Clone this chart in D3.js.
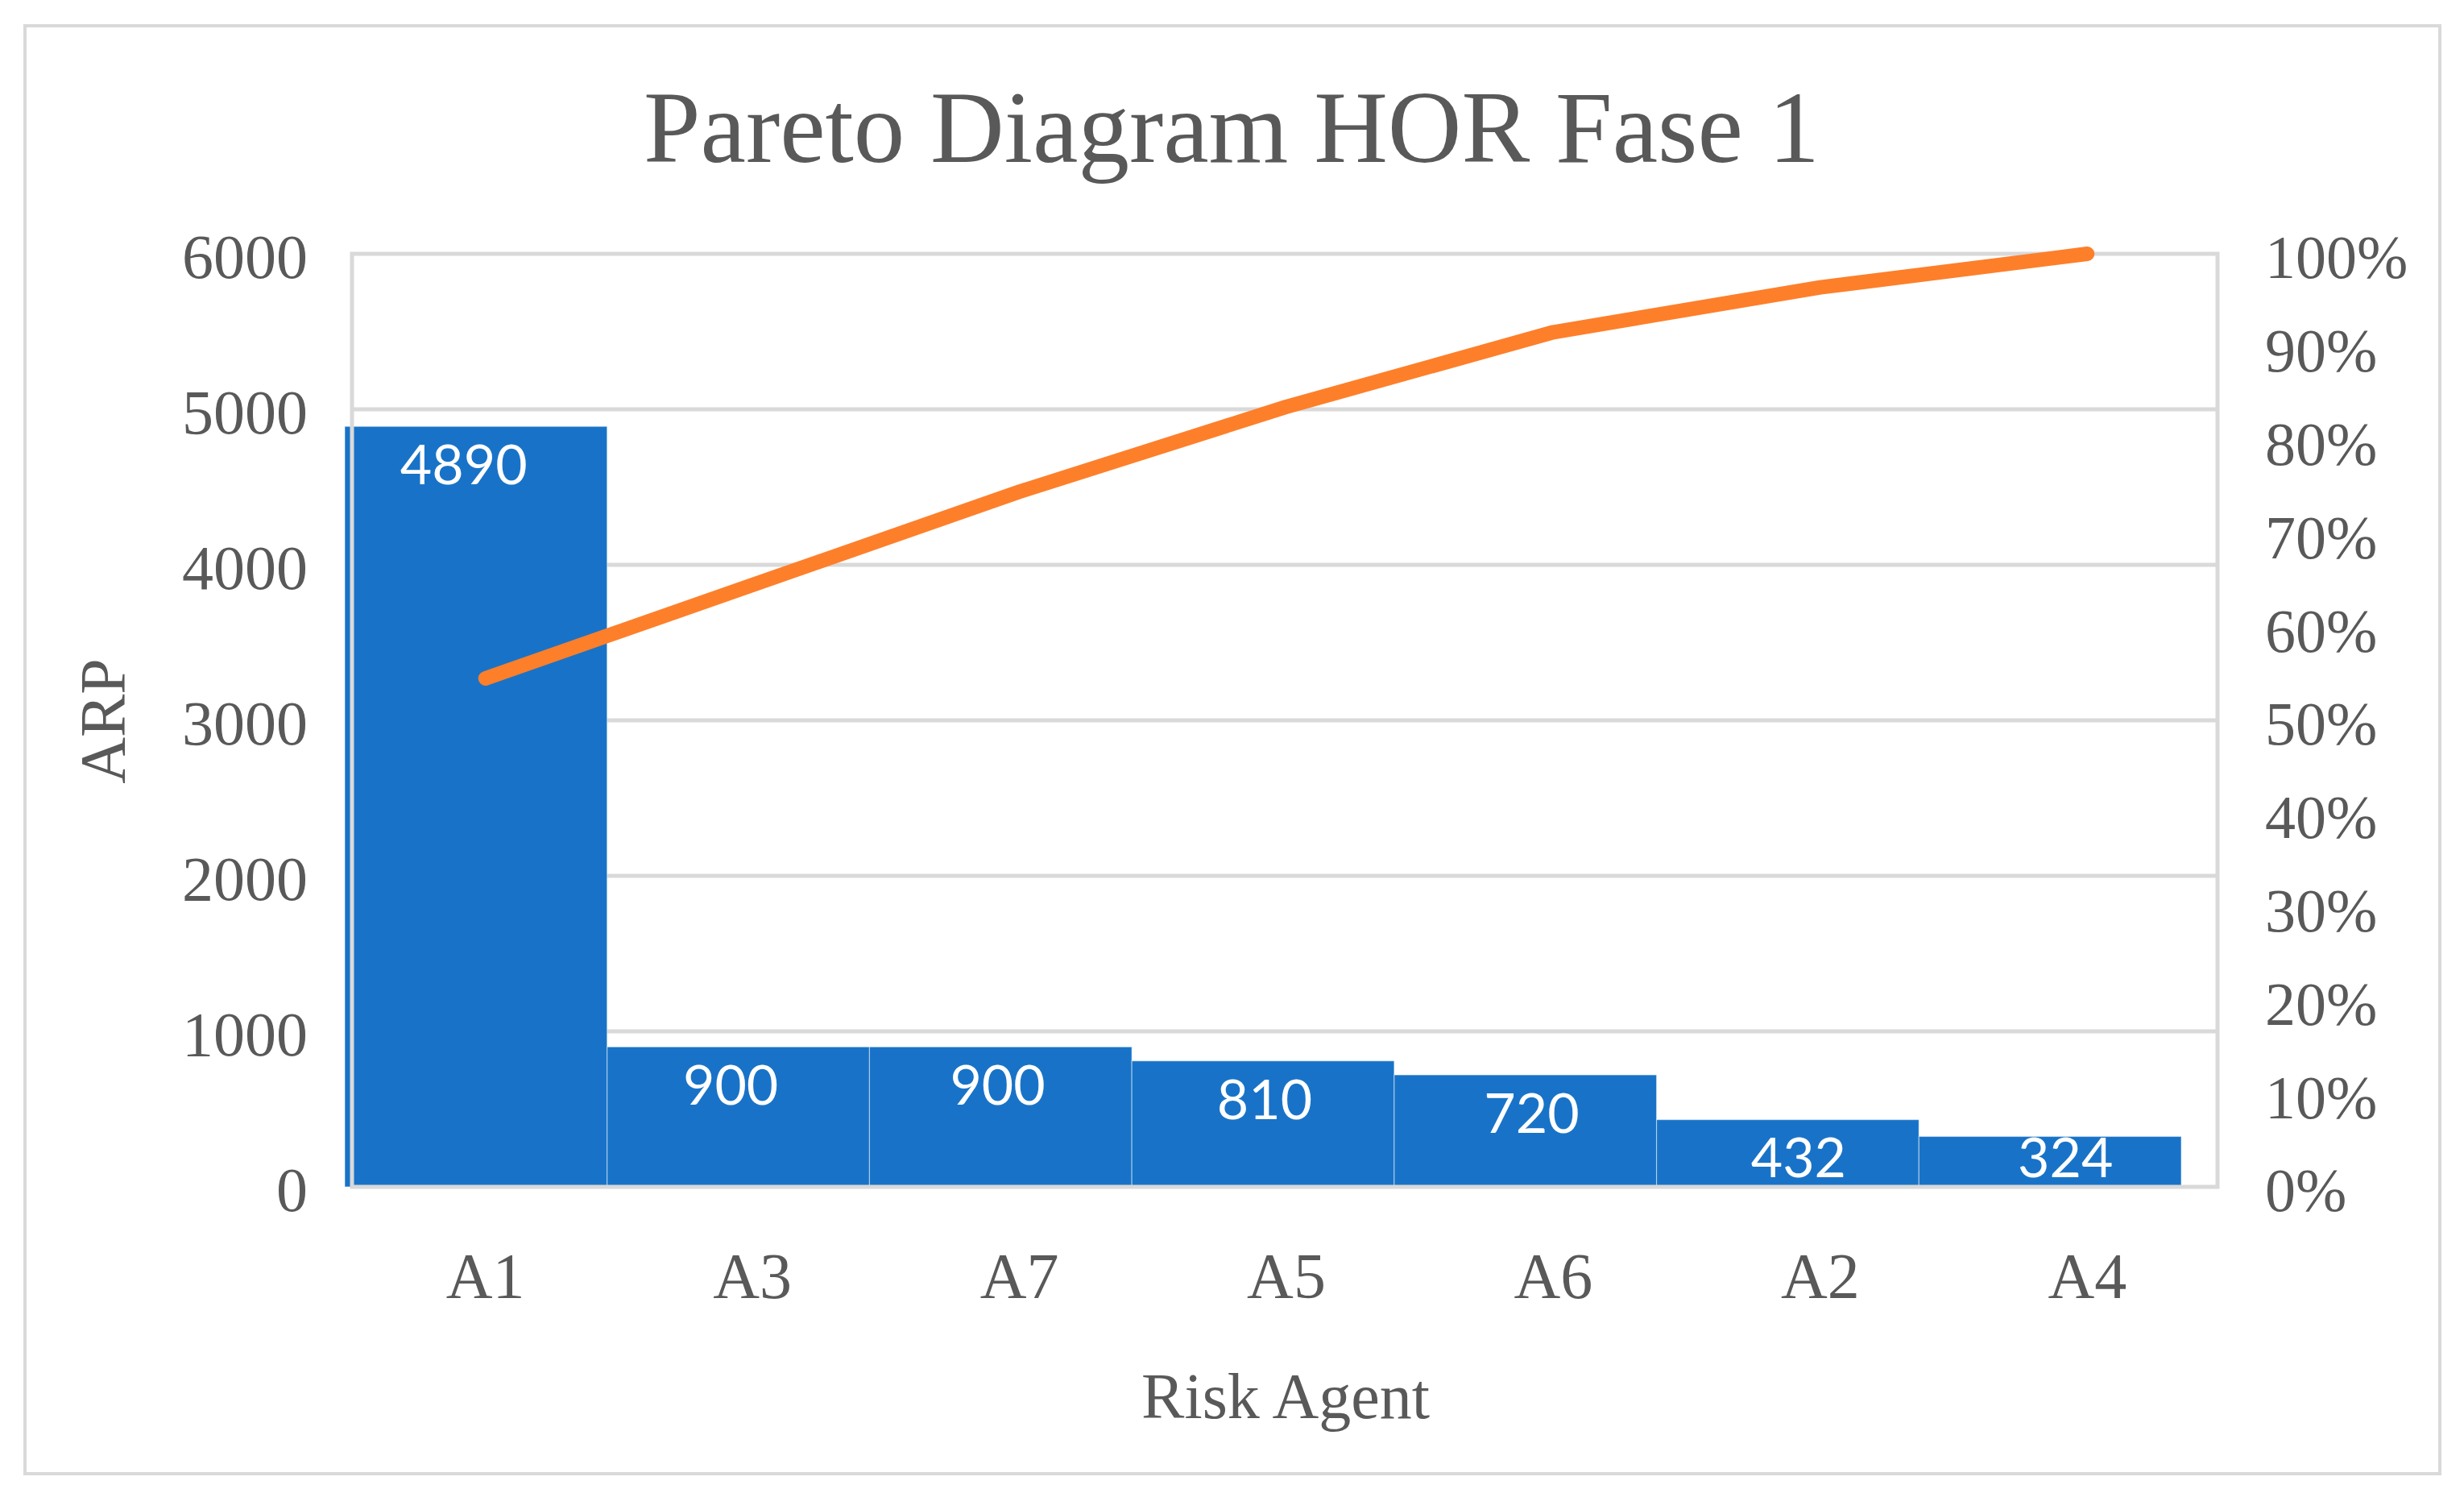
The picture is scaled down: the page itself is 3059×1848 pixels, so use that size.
<!DOCTYPE html>
<html>
<head>
<meta charset="utf-8">
<script src="https://cdn.jsdelivr.net/npm/d3@7"></script>
<style>
  html, body { margin: 0; padding: 0; background: #ffffff; }
  svg { display: block; }
</style>
</head>
<body>
<script>
// ---- Data ----
const categories = ["A1", "A3", "A7", "A5", "A6", "A2", "A4"];
const arpValues = [4890, 900, 900, 810, 720, 432, 324];
const cumulativePct = [54.5, 64.5, 74.5, 83.6, 91.6, 96.4, 100];
const leftTickValues = [0, 1000, 2000, 3000, 4000, 5000, 6000];
const rightTickValues = [0, 10, 20, 30, 40, 50, 60, 70, 80, 90, 100];
const titleText = "Pareto Diagram HOR Fase 1";
const xTitle = "Risk Agent";
const yTitle = "ARP";

// ---- Layout ----
const W = 3059, H = 1848;
const plotLeft = 437, plotRight = 2753, plotTop = 315, plotBottom = 1473;
const textColor = "#595959";
const gridColor = "#D9D9D9";
const barColor = "#1873C8";
const lineColor = "#FE7F2A";
const serif = "'Liberation Serif', 'DejaVu Serif', serif";
const sans = "Lato, 'Open Sans', 'Liberation Sans', sans-serif";

const svg = d3.select("body").append("svg")
  .attr("width", W).attr("height", H);

svg.append("rect").attr("width", W).attr("height", H).attr("fill", "#fff");
// outer chart border
svg.append("rect")
  .attr("x", 31).attr("y", 32).attr("width", 2998).attr("height", 1797)
  .attr("fill", "none").attr("stroke", gridColor).attr("stroke-width", 4);

// ---- Scales ----
const x = d3.scaleBand().domain(categories).range([plotLeft, plotRight + 4]).padding(0);
const xBar = d3.scaleBand().domain(categories).range([plotLeft - 9, plotRight - 45]).padding(0);
const y = d3.scaleLinear().domain([0, 6000]).range([plotBottom, plotTop]);
const yPct = d3.scaleLinear().domain([0, 100]).range([plotBottom, plotTop]);

// ---- Gridlines ----
svg.append("g").selectAll("line")
  .data(leftTickValues.filter(v => v > 0 && v < 6000))
  .join("line")
  .attr("x1", plotLeft).attr("x2", plotRight)
  .attr("y1", d => y(d)).attr("y2", d => y(d))
  .attr("stroke", gridColor).attr("stroke-width", 5);

// ---- Bars ----
svg.append("g").selectAll("rect")
  .data(categories.map((c, i) => ({ c, v: arpValues[i] })))
  .join("rect")
  .attr("x", d => xBar(d.c))
  .attr("width", xBar.bandwidth())
  .attr("y", d => y(d.v))
  .attr("height", d => y(0) - y(d.v))
  .attr("fill", barColor)
  .attr("stroke", "rgba(255,255,255,0.45)")
  .attr("stroke-width", 1.2);

// ---- Plot frame (drawn over the bars) ----
svg.append("rect")
  .attr("x", plotLeft).attr("y", plotTop)
  .attr("width", plotRight - plotLeft).attr("height", plotBottom - plotTop)
  .attr("fill", "none").attr("stroke", gridColor).attr("stroke-width", 5);

// ---- Bar data labels ----
svg.append("g").selectAll("text")
  .data(categories.map((c, i) => ({ c, v: arpValues[i] })))
  .join("text")
  .attr("x", d => x(d.c) + x.bandwidth() / 2 - 27)
  .attr("y", d => Math.min(y(d.v) + 72, y(0) - 12))
  .attr("text-anchor", "middle")
  .attr("font-family", sans)
  .attr("font-size", 68)
  .attr("fill", "#ffffff")
  .text(d => d.v);

// ---- Cumulative line ----
const line = d3.line()
  .x((d, i) => x(categories[i]) + x.bandwidth() / 2)
  .y(d => yPct(d));
svg.append("path")
  .datum(cumulativePct)
  .attr("d", line)
  .attr("fill", "none")
  .attr("stroke", lineColor)
  .attr("stroke-width", 18)
  .attr("stroke-linecap", "round")
  .attr("stroke-linejoin", "round");

// ---- Left axis ----
const leftAxis = svg.append("g")
  .attr("transform", `translate(${plotLeft - 55},0)`)
  .call(d3.axisLeft(y).tickValues(leftTickValues).tickSize(0).tickPadding(0).tickFormat(d3.format("d")));
leftAxis.select(".domain").remove();
leftAxis.selectAll("text")
  .attr("font-family", serif).attr("font-size", 78)
  .attr("fill", textColor).attr("dy", "0.38em")
  .attr("transform", "translate(0,0)");

// ---- Right axis ----
const rightAxis = svg.append("g")
  .attr("transform", `translate(${plotRight + 59},0)`)
  .call(d3.axisRight(yPct).tickValues(rightTickValues).tickSize(0).tickPadding(0).tickFormat(d => d + "%"));
rightAxis.select(".domain").remove();
rightAxis.selectAll("text")
  .attr("font-family", serif).attr("font-size", 76)
  .attr("fill", textColor).attr("dy", "0.38em")
  .attr("transform", "translate(0,1)");

// ---- Bottom axis ----
const bottomAxis = svg.append("g")
  .attr("transform", `translate(0,${plotBottom})`)
  .call(d3.axisBottom(x).tickSize(0).tickPadding(0));
bottomAxis.select(".domain").remove();
bottomAxis.selectAll("text")
  .attr("font-family", serif).attr("font-size", 80)
  .attr("fill", textColor)
  .attr("dy", 0).attr("y", 138);

// ---- Titles ----
svg.append("text")
  .attr("x", 1529).attr("y", 201)
  .attr("text-anchor", "middle")
  .attr("font-family", serif).attr("font-size", 127)
  .attr("fill", textColor)
  .text(titleText);

svg.append("text")
  .attr("x", (plotLeft + plotRight) / 2 + 1).attr("y", 1760)
  .attr("text-anchor", "middle")
  .attr("font-family", serif).attr("font-size", 80)
  .attr("fill", textColor)
  .text(xTitle);

svg.append("text")
  .attr("transform", `translate(155,${(plotTop + plotBottom) / 2 + 1}) rotate(-90)`)
  .attr("text-anchor", "middle")
  .attr("font-family", serif).attr("font-size", 80)
  .attr("fill", textColor)
  .text(yTitle);
</script>
</body>
</html>
